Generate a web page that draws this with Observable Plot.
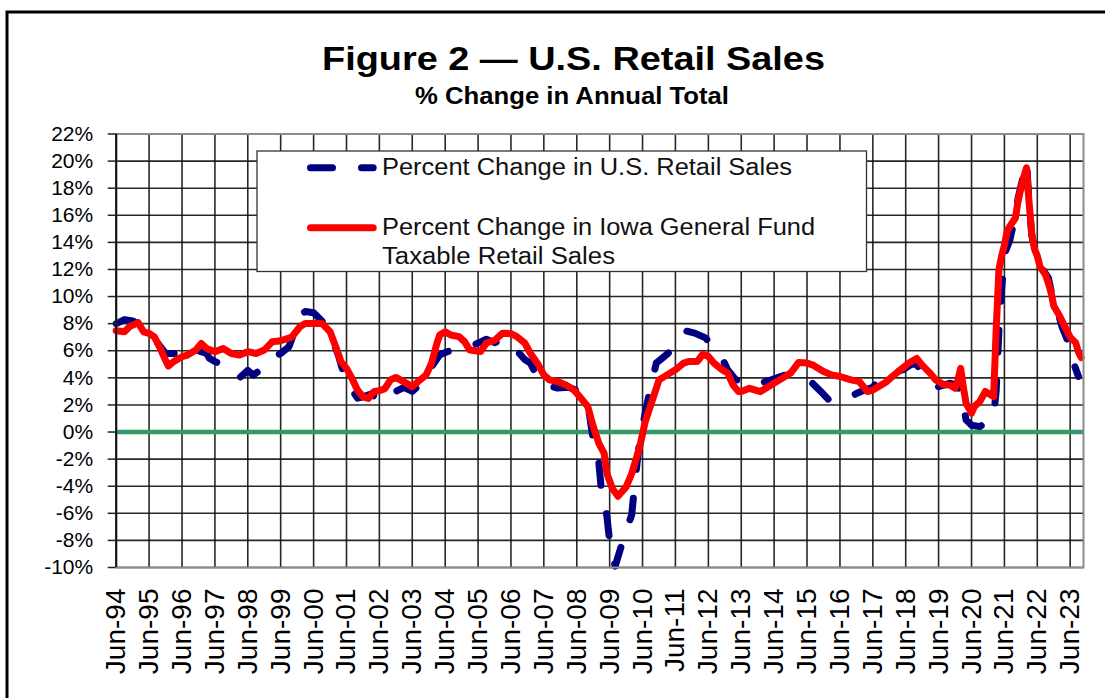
<!DOCTYPE html>
<html>
<head>
<meta charset="utf-8">
<script src="https://cdn.jsdelivr.net/npm/d3@7"></script>
<script src="https://cdn.jsdelivr.net/npm/@observablehq/plot@0.6"></script>
<style>
  html, body { margin: 0; padding: 0; background: #fff; }
  #chart { position: relative; width: 1105px; height: 698px; overflow: hidden; }
</style>
</head>
<body>
<div id="chart"></div>
<script>
// ---------------- data ----------------
const titleText = "Figure 2 \u2014 U.S. Retail Sales";
const subtitleText = "% Change in Annual Total";
const seriesNames = ["Percent Change in U.S. Retail Sales", "Percent Change in Iowa General Fund", "Taxable Retail Sales"];

const xTickLabels = ["Jun-94","Jun-95","Jun-96","Jun-97","Jun-98","Jun-99","Jun-00","Jun-01","Jun-02","Jun-03",
  "Jun-04","Jun-05","Jun-06","Jun-07","Jun-08","Jun-09","Jun-10","Jun-11","Jun-12","Jun-13",
  "Jun-14","Jun-15","Jun-16","Jun-17","Jun-18","Jun-19","Jun-20","Jun-21","Jun-22","Jun-23"];
const xTickMonths = ["1994-06","1995-06","1996-06","1997-06","1998-06","1999-06","2000-06","2001-06","2002-06","2003-06",
  "2004-06","2005-06","2006-06","2007-06","2008-06","2009-06","2010-06","2011-06","2012-06","2013-06",
  "2014-06","2015-06","2016-06","2017-06","2018-06","2019-06","2020-06","2021-06","2022-06","2023-06"];
const yTicks = [-10,-8,-6,-4,-2,0,2,4,6,8,10,12,14,16,18,20,22];
const yTickLabels = ["-10%","-8%","-6%","-4%","-2%","0%","2%","4%","6%","8%","10%","12%","14%","16%","18%","20%","22%"];

const usMonths = ["1994-06","1994-09","1994-12","1995-02","1995-04","1995-06","1995-09","1995-12","1996-03","1996-06",
  "1996-09","1996-12","1997-03","1997-04","1997-06","1997-08","1997-11","1998-02","1998-03","1998-06",
  "1998-08","1998-12","1999-03","1999-06","1999-09","1999-11","2000-01","2000-03","2000-06","2000-09",
  "2000-12","2001-02","2001-03","2001-06","2001-08","2001-10","2001-12","2002-03","2002-06","2002-08",
  "2002-10","2002-12","2003-03","2003-06","2003-08","2003-11","2004-01","2004-04","2004-07","2004-09",
  "2004-12","2005-03","2005-07","2005-09","2005-12","2006-03","2006-06","2006-08","2006-11","2007-01",
  "2007-05","2007-08","2007-11","2008-03","2008-07","2008-10","2008-12","2009-02","2009-03","2009-05",
  "2009-06","2009-08","2009-11","2010-02","2010-03","2010-04","2010-05","2010-07","2010-09","2010-11",
  "2011-02","2011-05","2011-08","2011-10","2012-01","2012-05","2012-08","2012-11","2013-01","2013-04",
  "2013-07","2013-10","2014-01","2014-05","2014-10","2015-01","2015-05","2015-08","2015-11","2016-02",
  "2016-06","2016-10","2016-12","2017-03","2017-06","2017-08","2017-10","2018-01","2018-05","2018-08",
  "2018-10","2018-12","2019-03","2019-06","2019-10","2019-12","2020-02","2020-04","2020-06","2020-09",
  "2020-12","2021-02","2021-03","2021-04","2021-05","2021-06","2021-08","2021-10","2021-11","2022-01",
  "2022-02","2022-03","2022-04","2022-06","2022-08","2022-10","2022-12","2023-01","2023-03","2023-05",
  "2023-06","2023-09"];
const usValues = [8.0, 8.3, 8.2, 8.0, 7.5, 7.2, 6.6, 5.8, 5.8, 5.8,
  5.45, 6.0, 5.8, 5.45, 5.2, 5.05, 4.6, 4.2, 4.0, 4.55,
  4.2, 4.8, 5.5, 5.8, 6.3, 7.4, 8.6, 8.9, 8.8, 8.2,
  6.9, 6.2, 5.7, 3.6, 3.1, 2.5, 2.6, 2.8, 2.4, 2.7,
  2.55, 3.0, 3.3, 3.0, 3.35, 3.85, 4.8, 5.7, 5.95, 6.0,
  6.05, 6.3, 6.65, 6.85, 6.6, 6.8, 6.55, 6.05, 5.35, 5.1,
  3.6, 3.4, 3.25, 3.3, 3.0, 2.1, -0.6, -2.3, -4.3, -6.2,
  -8.1, -9.9, -7.9, -6.1, -4.2, -2.3, -0.6, 1.4, 3.4, 5.1,
  5.6, 6.1, 7.05, 7.45, 7.3, 6.95, 6.2, 5.45, 4.6, 3.85,
  3.75, 3.9, 3.6, 3.85, 4.2, 4.0, 3.9, 3.6, 3.0, 2.35,
  2.3, 2.6, 2.85, 3.1, 3.3, 3.8, 4.1, 4.35, 4.6, 5.0,
  5.0, 4.35, 3.95, 3.35, 3.6, 3.5, 3.1, 0.9, 0.5, 0.4,
  0.8, 1.15, 3.0, 7.5, 10.5, 13.1, 14.2, 16.0, 17.3, 19.0,
  20.0, 17.0, 14.5, 12.7, 12.0, 11.4, 9.5, 9.2, 7.8, 6.8,
  5.8, 4.1];

const iowaMonths = ["1994-06","1994-09","1994-11","1995-02","1995-04","1995-06","1995-08","1995-10","1995-12","1996-01",
  "1996-03","1996-06","1996-08","1996-11","1997-01","1997-03","1997-06","1997-09","1997-12","1998-03",
  "1998-06","1998-09","1998-12","1999-03","1999-06","1999-10","2000-01","2000-03","2000-06","2000-09",
  "2000-12","2001-02","2001-04","2001-06","2001-08","2001-10","2001-12","2002-02","2002-04","2002-06",
  "2002-08","2002-10","2002-12","2003-03","2003-06","2003-08","2003-11","2004-01","2004-03","2004-04",
  "2004-06","2004-08","2004-11","2005-01","2005-03","2005-07","2005-09","2005-12","2006-03","2006-06",
  "2006-08","2006-11","2007-01","2007-04","2007-06","2007-08","2007-11","2008-02","2008-05","2008-07",
  "2008-10","2008-12","2009-02","2009-04","2009-05","2009-07","2009-09","2009-12","2010-02","2010-05",
  "2010-07","2010-10","2010-12","2011-03","2011-06","2011-09","2011-11","2012-02","2012-04","2012-06",
  "2012-08","2012-11","2013-01","2013-03","2013-05","2013-06","2013-09","2014-01","2014-04","2014-08",
  "2014-12","2015-03","2015-06","2015-08","2015-12","2016-03","2016-06","2016-10","2017-01","2017-04",
  "2017-06","2017-08","2017-11","2018-01","2018-04","2018-07","2018-10","2018-12","2019-03","2019-05",
  "2019-08","2019-10","2019-12","2020-01","2020-02","2020-03","2020-04","2020-06","2020-07","2020-09",
  "2020-11","2021-01","2021-02","2021-03","2021-04","2021-05","2021-06","2021-07","2021-08","2021-09",
  "2021-10","2021-11","2021-12","2022-01","2022-02","2022-03","2022-04","2022-05","2022-06","2022-07",
  "2022-09","2022-10","2022-11","2022-12","2023-02","2023-04","2023-06","2023-08","2023-09","2023-10"];
const iowaValues = [7.48, 7.4, 7.8, 8.07, 7.4, 7.28, 7.0, 6.2, 5.3, 4.87,
  5.2, 5.56, 5.68, 6.05, 6.54, 6.17, 5.93, 6.17, 5.8, 5.68,
  5.93, 5.8, 6.05, 6.67, 6.74, 7.0, 7.77, 8.02, 8.02, 8.02,
  7.4, 6.3, 5.19, 4.7, 3.96, 3.1, 2.6, 2.48, 2.98, 3.05,
  3.2, 3.84, 4.03, 3.7, 3.35, 3.71, 4.2, 5.07, 6.54, 7.16,
  7.4, 7.16, 7.04, 6.67, 6.05, 5.95, 6.57, 6.77, 7.3, 7.26,
  7.06, 6.57, 5.83, 4.96, 4.22, 3.85, 3.73, 3.48, 3.11, 2.62,
  1.88, 0.4, -0.84, -1.58, -3.06, -4.17, -4.74, -4.05, -3.06, -1.09,
  0.77, 2.62, 3.85, 4.22, 4.59, 5.09, 5.21, 5.21, 5.75, 5.58,
  5.09, 4.59, 4.35, 3.48, 2.99, 2.99, 3.23, 2.99, 3.36, 3.85,
  4.35, 5.14, 5.09, 4.96, 4.47, 4.22, 4.1, 3.85, 3.73, 2.99,
  3.1, 3.35, 3.72, 4.09, 4.58, 5.07, 5.43, 4.94, 4.33, 3.84,
  3.48, 3.48, 3.23, 3.84, 4.7, 3.35, 2.13, 1.4, 1.88, 2.25,
  2.99, 2.74, 2.62, 7.5, 12.0, 13.0, 13.8, 14.8, 15.2, 15.5,
  15.8, 17.1, 18.0, 18.8, 19.5, 17.0, 14.6, 13.5, 13.0, 12.2,
  11.6, 11.0, 10.3, 9.3, 8.6, 7.8, 7.0, 6.6, 5.9, 5.5];

// ---------------- build ----------------
const parseMonth = d3.utcParse("%Y-%m");
const usData = usMonths.map((m, i) => ({date: parseMonth(m), value: usValues[i]}));
const iowaData = iowaMonths.map((m, i) => ({date: parseMonth(m), value: iowaValues[i]}));
const xTicks = xTickMonths.map(parseMonth);
const xStart = parseMonth("1994-06");
const xEnd = new Date(Date.UTC(2023, 9, 27));

const FONT = "'Liberation Sans', Arial, Helvetica, sans-serif";

const chart = Plot.plot({
  width: 1105,
  height: 698,
  marginTop: 133.5,
  marginBottom: 131,
  marginLeft: 115.7,
  marginRight: 22,
  style: {fontFamily: FONT, background: "transparent", color: "#000", overflow: "visible"},
  x: {type: "utc", domain: [xStart, xEnd]},
  y: {domain: [-10, 22]},
  marks: [
    Plot.gridX(xTicks, {stroke: "#111", strokeOpacity: 0.9, strokeWidth: 1.6}),
    Plot.gridY(yTicks, {stroke: "#111", strokeOpacity: 0.9, strokeWidth: 1.6}),
    Plot.ruleY([0], {stroke: "#339966", strokeWidth: 4.5}),
    Plot.line(usData, {x: "date", y: "value", stroke: "#000080", strokeWidth: 7,
      strokeDasharray: "22,29", strokeLinecap: "round", strokeLinejoin: "round"}),
    Plot.line(iowaData, {x: "date", y: "value", stroke: "#ff0000", strokeWidth: 7,
      strokeLinecap: "round", strokeLinejoin: "round"}),
    Plot.frame({stroke: "#8c8c8c", strokeWidth: 2}),
    Plot.ruleX([xStart], {stroke: "#111", strokeWidth: 2}),
    Plot.axisY(yTicks, {tickFormat: d => yTickLabels[yTicks.indexOf(d)], tickSize: 8, tickPadding: 15,
      fontSize: 21, stroke: "#222", strokeWidth: 1.5, label: null}),
    Plot.axisX(xTicks, {tickFormat: d => xTickLabels[d.getUTCFullYear() - 1994], tickRotate: -90,
      tickSize: 0, tickPadding: 21, fontSize: 28, label: null})
  ]
});

const svg = d3.select(chart);
svg.attr("font-family", FONT);

// outer border
svg.append("rect").attr("x", 7).attr("y", 12).attr("width", 1300).attr("height", 900)
  .attr("fill", "none").attr("stroke", "#000").attr("stroke-width", 3);

// title & subtitle
svg.append("text").attr("x", 573.5).attr("y", 70).attr("text-anchor", "middle")
  .attr("font-size", 33).attr("font-weight", "bold").attr("fill", "#000")
  .attr("textLength", 503).attr("lengthAdjust", "spacingAndGlyphs").text(titleText);
svg.append("text").attr("x", 572).attr("y", 104).attr("text-anchor", "middle")
  .attr("font-size", 23).attr("font-weight", "bold").attr("fill", "#000")
  .attr("textLength", 314).attr("lengthAdjust", "spacingAndGlyphs").text(subtitleText);

// legend
const lg = svg.append("g").attr("text-anchor", "start");
lg.append("rect").attr("x", 257).attr("y", 151).attr("width", 609.5).attr("height", 120.5)
  .attr("fill", "#fff").attr("stroke", "#333").attr("stroke-width", 1.3);
lg.append("line").attr("x1", 310.5).attr("x2", 373.2).attr("y1", 167.7).attr("y2", 167.7)
  .attr("stroke", "#000080").attr("stroke-width", 7).attr("stroke-linecap", "round")
  .attr("stroke-dasharray", "22,29");
lg.append("line").attr("x1", 310.5).attr("x2", 373.2).attr("y1", 227.7).attr("y2", 227.7)
  .attr("stroke", "#ff0000").attr("stroke-width", 7).attr("stroke-linecap", "round");
const legendLines = [
  {t: seriesNames[0], y: 174.5, len: 410},
  {t: seriesNames[1], y: 235, len: 433},
  {t: seriesNames[2], y: 264, len: 233}
];
legendLines.forEach(l => {
  lg.append("text").attr("x", 382).attr("y", l.y).attr("text-anchor", "start")
    .attr("font-size", 23.5).attr("fill", "#111")
    .attr("textLength", l.len).attr("lengthAdjust", "spacingAndGlyphs").text(l.t);
});

document.getElementById("chart").appendChild(chart);
</script>
</body>
</html>
